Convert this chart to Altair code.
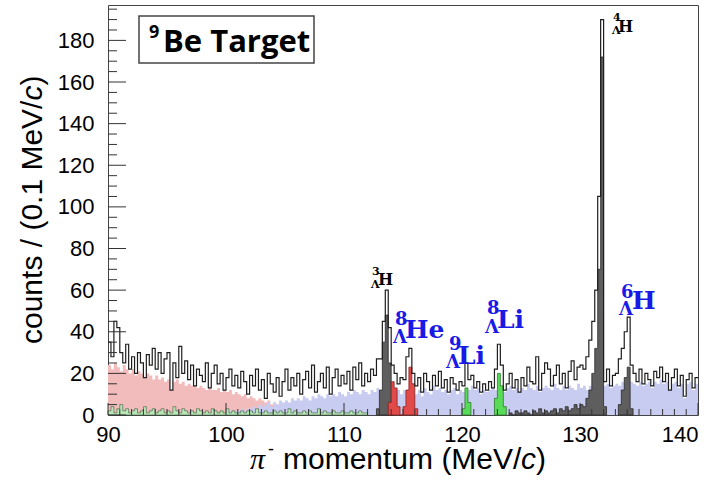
import altair as alt
import pandas as pd

# Bin width (MeV/c) of the histograms below
W = 0.25

# Total spectrum, 90.0 - 140.0 MeV/c
TOTAL = [
    35, 28, 45, 42,  30, 25, 34, 22,  28, 20, 30, 25,  18, 29, 24, 32,  22, 30, 20, 27,
    30, 12, 25, 18,  33, 20, 26, 17,  24, 14, 22, 19,  16, 25, 13, 20,  24, 15, 20, 12,
    18, 22, 14, 19,  13, 21, 16, 10,  19, 14, 22, 12,  17, 8, 20, 15,   11, 18, 9, 16,
    22, 12, 18, 14,  20, 10, 17, 21,  13, 24, 11, 16,  20, 13, 23, 10,  18, 22, 14, 19,
    15, 21, 12, 23,  17, 25, 14, 20,  16, 22, 19, 27,  27, 45, 60, 42,  24, 20, 15, 18,
    17, 28, 32, 20,  14, 18, 11, 20,  16, 12, 19, 14,  21, 13, 17, 11,  18, 15, 12, 16,
    14, 25, 17, 19,  13, 16, 11, 15,  12, 16, 13, 22,  34, 24, 12, 15,  20, 13, 17, 11,
    18, 14, 23, 16,  15, 28, 12, 20,  25, 22, 14, 19,  24, 15, 20, 13,  21, 26, 17, 23,
    24, 22, 28, 36,  45, 60, 105, 190, 16, 22, 14, 19, 20, 27, 32, 40,  47, 24, 20, 16,
    22, 15, 20, 17,  14, 21, 18, 23,  16, 20, 12, 18,  22, 14, 19, 9,   17, 20, 13, 18,
]
TOTAL_START = 90.0

# Decay-in-flight background (red), from 90.0
RED_BG = [
    24, 22, 25, 23,  21, 24, 22, 20,  22, 19, 21, 20,  18, 20, 19, 17,  19, 17, 18, 16,
    17, 12, 16, 17,  15, 16, 14, 15,  14, 14, 13, 14,  13, 12, 13, 12,  12, 13, 11, 12,
    11, 12, 10, 11,  10, 9, 10, 8,    9, 8, 7, 8,      7, 6, 7, 5,      6, 5, 5, 4,
    4, 5, 3, 4,      3, 3, 2, 3,      2, 2, 1, 2,      1, 2, 1, 1,      1, 0, 1, 1,
    0, 1, 0, 1,      0, 0, 1, 0,
]
RED_BG_START = 90.0

# Quasi-free Lambda decay background (blue), from 100.0
BLUE_BG = [
    1, 2, 1, 2,    2, 3, 2, 3,    3, 4, 3, 5,    4, 5, 6, 4,    6, 5, 7, 6,
    7, 6, 8, 7,    8, 7, 9, 8,    7, 9, 8, 10,   9, 8, 10, 9,   10, 9, 11, 10,
    9, 11, 10, 12, 11, 10, 12, 11, 10, 12, 11, 13, 12, 11, 13, 12, 11, 13, 12, 10,
    12, 11, 13, 12, 10, 12, 9, 13, 11, 10, 14, 12, 13, 11, 12, 10, 12, 13, 10, 12,
    11, 13, 12, 14, 12, 13, 10, 12, 11, 12, 13, 12, 12, 13, 11, 13, 14, 12, 13, 11,
    13, 12, 15, 13, 12, 14, 11, 13, 14, 13, 12, 15, 13, 12, 14, 12, 14, 13, 12, 15,
    13, 14, 12, 14, 14, 13, 12, 13, 14, 15, 13, 14, 15, 14, 16, 15, 14, 16, 15, 14,
    16, 14, 15, 16, 13, 16, 15, 17, 15, 16, 12, 15, 16, 13, 15, 8,  15, 16, 12, 15,
]
BLUE_BG_START = 100.0

# Low-level background (green), from 90.0
GREEN_BG = [
    2, 4, 1, 3,  5, 2, 3, 1,  2, 3, 1, 2,  4, 1, 2, 3,  1, 2, 3, 1,
    2, 1, 4, 2,  1, 3, 2, 1,  2, 1, 3, 2,  1, 2, 1, 3,  2, 1, 2, 1,
    3, 1, 2, 1,  1, 2, 1, 2,  2, 1, 3, 1,  1, 2, 1, 1,  2, 1, 2, 1,
    1, 3, 1, 2,  1, 1, 2, 1,  2, 1, 1, 3,  1, 2, 1, 1,  2, 1, 1, 2,
    1, 1, 2, 1,  1, 2, 1, 1,
]
GREEN_BG_START = 90.0

# Two-body decay peaks of light hypernuclei (grey)
H3_PEAK = [3, 12, 35, 48, 25, 5]
H3_START = 112.75
H4_PEAK = [1, 0, 2, 1, 1, 2, 1, 0, 2, 1, 3, 1, 2, 1, 2, 3,
           1, 3, 2, 4, 2, 3, 5, 3, 5, 4, 8, 12, 20, 32, 70, 172, 4]
H4_START = 124.0
H6_PEAK = [5, 12, 18, 23, 3]
H6_START = 133.25

# 8_Lambda He candidates (red)
HE8_PEAK = [6, 16, 13, 4, 0, 4, 12, 23, 15, 3]
HE8_START = 113.75

# 9_Lambda Li and 8_Lambda Li candidates (green)
LI9_PEAK = [3, 13, 6]
LI9_START = 120.0
LI8_PEAK = [8, 20, 14, 4]
LI8_START = 122.75

X_TICKS = [90, 100, 110, 120, 130, 140]
Y_TICKS = [0, 20, 40, 60, 80, 100, 120, 140, 160, 180]

PW, PH = 590, 410
XS = alt.Scale(domain=[90, 140], nice=False, zero=False)
YS = alt.Scale(domain=[0, 197], nice=False)

LABEL_FONT = "Liberation Sans"
XAXIS = alt.Axis(values=X_TICKS, title=None, ticks=False, domain=False, grid=False,
                 labelFont=LABEL_FONT, labelFontSize=22, labelColor="black",
                 labelPadding=9, labelFlush=False,
                 labelAlign={"condition": {"test": "datum.value == 140", "value": "right"},
                             "value": "center"})
YAXIS = alt.Axis(values=Y_TICKS, title=None, ticks=False, domain=False, grid=False,
                 labelFont=LABEL_FONT, labelFontSize=22, labelColor="black",
                 labelPadding=14)


def steps(start, values):
    """Edge points of a histogram, for step-after interpolation."""
    xs = [start + W * i for i in range(len(values) + 1)]
    ys = list(values) + [values[-1]]
    return pd.DataFrame({"p": xs, "n": ys})


def enc(chart):
    return chart.encode(
        x=alt.X("p:Q", scale=XS, axis=XAXIS),
        y=alt.Y("n:Q", scale=YS, axis=YAXIS, stack=None),
    )


def filled(start, values, fill, stroke=None, sw=0.8):
    kw = dict(interpolate="step-after", fill=fill, opacity=1)
    if stroke:
        kw.update(stroke=stroke, strokeWidth=sw)
    return enc(alt.Chart(steps(start, values)).mark_area(**kw))


ONE = pd.DataFrame({"k": [0]})


def text(s, x, y, size, color="black", font="DejaVu Serif", weight="bold",
         style="normal", angle=0, align="left"):
    return alt.Chart(ONE).mark_text(
        text=s, font=font, fontSize=size, fontWeight=weight, fontStyle=style,
        color=color, angle=angle, align=align, baseline="alphabetic",
    ).encode(x=alt.value(x), y=alt.value(y))


layers = [
    filled(RED_BG_START, RED_BG, "#f2bcbc"),
    filled(BLUE_BG_START, BLUE_BG, "#c9ccf1"),
    filled(GREEN_BG_START, GREEN_BG, "#b8e8b8", "#3a5a3a", 0.6),
    filled(H3_START, H3_PEAK, "#5e5e5e", "#2a2a2a"),
    filled(H4_START, H4_PEAK, "#5e5e5e", "#2a2a2a"),
    filled(H6_START, H6_PEAK, "#5e5e5e", "#2a2a2a"),
    filled(HE8_START, HE8_PEAK, "#e24a4a", "#8a2020"),
    filled(LI9_START, LI9_PEAK, "#58dc58", "#2a7a2a"),
    filled(LI8_START, LI8_PEAK, "#58dc58", "#2a7a2a"),
    enc(alt.Chart(steps(TOTAL_START, TOTAL)).mark_line(
        interpolate="step-after", color="#1e1e1e", strokeWidth=1.2)),
]

# Inward tick marks along the bottom and left edges of the frame
x_major = pd.DataFrame({"t": X_TICKS})
x_minor = pd.DataFrame({"t": [v for v in range(90, 141) if v % 10]})
y_major = pd.DataFrame({"t": Y_TICKS})
y_minor = pd.DataFrame({"t": [v for v in range(0, 197, 5) if v % 20]})
for df, ln in ((x_major, 12), (x_minor, 6)):
    layers.append(alt.Chart(df).mark_rule(color="#333", strokeWidth=1).encode(
        x=alt.X("t:Q", scale=XS, axis=XAXIS), y=alt.value(PH), y2=alt.value(PH - ln)))
for df, ln in ((y_major, 18), (y_minor, 9)):
    layers.append(alt.Chart(df).mark_rule(color="#333", strokeWidth=1).encode(
        y=alt.Y("t:Q", scale=YS, axis=YAXIS), x=alt.value(0), x2=alt.value(ln)))

# Target label box
layers.append(alt.Chart(ONE).mark_rect(fill="white", stroke="#444", strokeWidth=1.5).encode(
    x=alt.value(31), x2=alt.value(206), y=alt.value(11), y2=alt.value(58)))
layers += [
    text("9", 41, 33, 18, font="Open Sans"),
    text("Be Target", 55, 47, 31, font="Open Sans"),
]

# Peak labels: mass number over Lambda, then the element symbol
BLUE = "#1a1ae6"
peak_labels = [
    ("3", "H", 264, 270, 263, 283, 270, 280, 11, 16, "black"),
    ("4", "H", 505, 16, 504, 29, 510, 27, 11, 16, "black"),
    ("8", "He", 287, 320, 285, 338, 297, 333, 18, 25, BLUE),
    ("9", "Li", 341, 345, 338, 363, 350, 359, 18, 25, BLUE),
    ("8", "Li", 379, 309, 377, 328, 389, 323, 18, 25, BLUE),
    ("6", "H", 513, 293, 511, 310, 524, 304, 18, 25, BLUE),
]
for a, el, ax, ay, lx, ly, ex, ey, s1, s2, col in peak_labels:
    layers += [text(a, ax, ay, s1, col), text("Λ", lx, ly, s1, col), text(el, ex, ey, s2, col)]

# Axis titles
TF = 30
layers += [
    text("π", 142, 464, TF, font="Liberation Serif", weight="normal", style="italic"),
    text("-", 160, 450, 18, font=LABEL_FONT, weight="normal"),
    text("momentum (MeV/", 175, 464, TF, font=LABEL_FONT, weight="normal"),
    text("c", 413, 464, TF, font=LABEL_FONT, weight="normal", style="italic"),
    text(")", 428, 464, TF, font=LABEL_FONT, weight="normal"),
    text("counts / (0.1 MeV/", -66, 339, TF, font=LABEL_FONT, weight="normal", angle=270),
    text("c", -66, 95.5, TF, font=LABEL_FONT, weight="normal", style="italic", angle=270),
    text(")", -66, 80.5, TF, font=LABEL_FONT, weight="normal", angle=270),
]

chart = alt.layer(*layers).properties(
    width=PW, height=PH,
    autosize=alt.AutoSizeParams(type="none"),
    padding={"left": 108, "top": 5, "right": 6, "bottom": 66},
).configure_view(stroke="#444", strokeWidth=1)

chart.save("out.html", embed_options={"renderer": "svg", "actions": False})
